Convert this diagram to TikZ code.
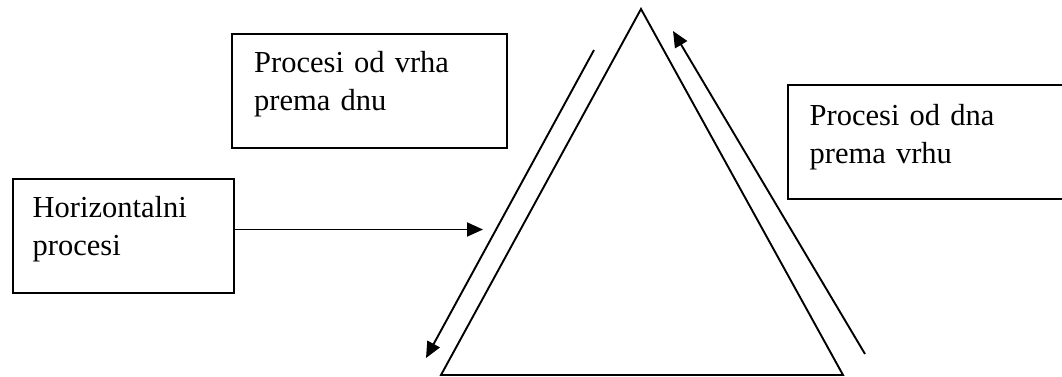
\documentclass[tikz,border=0pt]{standalone}
\usepackage{fontspec}
\setmainfont{Liberation Serif}
\usetikzlibrary{arrows.meta}
\usetikzlibrary{positioning}
\begin{document}
\begin{tikzpicture}[x=1pt,y=-1pt,
  box/.style={draw,line width=2.2pt,rectangle,minimum height=114pt,anchor=north west,inner sep=0pt},
  lbl/.style={font=\fontsize{30.5}{37.5}\selectfont,text width=260pt,align=left,inner sep=0pt,anchor=base west},
  edge/.style={line width=1.9pt},
  arr/.style={line width=1.9pt,-{Triangle[length=16pt,width=14pt]}}]
\useasboundingbox (0,0) rectangle (1062,376);
\node[box,minimum width=275pt] (topdownbox) at (231,33) {};
\node[box,minimum width=221pt] (horizbox) at (11.5,178) {};
\node[box,minimum width=300pt] (bottomupbox) at (787,84) {};
\node[lbl] (topdown) at ([xshift=23pt,yshift=-39.5pt]topdownbox.north west) {Procesi od vrha\\prema dnu};
\node[lbl] (horiz) at ([xshift=21pt,yshift=-39.5pt]horizbox.north west) {Horizontalni\\procesi};
\node[lbl] (bottomup) at ([xshift=22.5pt,yshift=-41.5pt]bottomupbox.north west) {Procesi od dna\\prema vrhu};

\coordinate (apex) at (641,9);
\coordinate (left) at (441,375);
\coordinate (right) at (843,375);
\draw[edge,line join=miter] (apex) -- (right) -- (left) -- cycle;

\coordinate (hend) at (483,229.5);
\draw[arr] (horizbox.east |- hend) -- (hend);
\coordinate (dstart) at (594,50);
\coordinate (dend) at (426,358);
\draw[arr] (dstart) -- (dend);
\coordinate (ustart) at (865,354);
\coordinate (uend) at (673,31);
\draw[arr] (ustart) -- (uend);
\end{tikzpicture}
\end{document}
